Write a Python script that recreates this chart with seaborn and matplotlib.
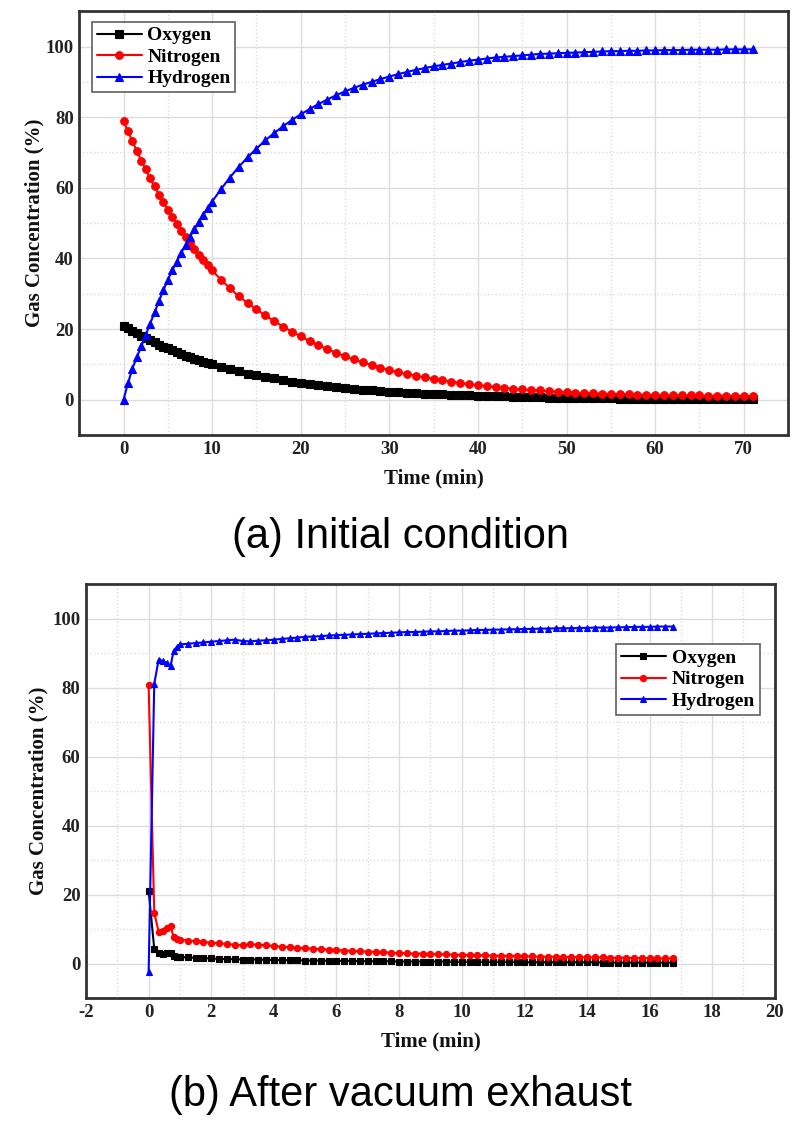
import numpy as np
import pandas as pd
import seaborn as sns
import matplotlib.pyplot as plt
from matplotlib.ticker import MultipleLocator

# (a) initial condition, time in min
time_a = np.concatenate([np.arange(0, 10.5, 0.5), np.arange(11, 72, 1)])
oxygen_a = [21.0, 20.2, 19.5, 18.8, 18.1, 17.4, 16.8, 16.2, 15.6, 15.0, 14.5, 14.0, 13.5, 13.0, 12.5,
            12.0, 11.6, 11.2, 10.8, 10.4, 10.0,
            9.3, 8.6, 8.0, 7.4, 6.9, 6.4, 6.0, 5.5, 5.1, 4.8,
            4.4, 4.1, 3.8, 3.5, 3.3, 3.1, 2.8, 2.6, 2.5, 2.3,
            2.1, 2.0, 1.8, 1.7, 1.6, 1.5, 1.4, 1.3, 1.2, 1.1,
            1.0, 0.9, 0.9, 0.8, 0.8, 0.7, 0.7, 0.6, 0.6, 0.5,
            0.5, 0.5, 0.4, 0.4, 0.4, 0.3, 0.3, 0.3, 0.3, 0.3,
            0.2, 0.2, 0.2, 0.2, 0.2, 0.2, 0.2, 0.2, 0.2, 0.2, 0.2]
nitrogen_a = [79.0, 76.0, 73.2, 70.4, 67.7, 65.2, 62.7, 60.4, 58.1, 55.9, 53.8, 51.8, 49.8, 47.9, 46.1,
              44.4, 42.7, 41.1, 39.5, 38.0, 36.6,
              34.0, 31.6, 29.3, 27.4, 25.6, 23.9, 22.3, 20.7, 19.3, 17.9,
              16.6, 15.4, 14.3, 13.3, 12.3, 11.4, 10.6, 9.8, 9.1, 8.4,
              7.8, 7.3, 6.8, 6.3, 5.9, 5.5, 5.1, 4.7, 4.4, 4.1,
              3.8, 3.6, 3.3, 3.1, 2.9, 2.7, 2.6, 2.4, 2.3, 2.1,
              2.0, 1.9, 1.8, 1.7, 1.6, 1.6, 1.5, 1.4, 1.4, 1.3,
              1.3, 1.3, 1.2, 1.2, 1.2, 1.1, 1.1, 1.1, 1.1, 1.0, 1.0]
hydrogen_a = [0.0, 4.6, 8.8, 12.0, 15.1, 18.3, 21.5, 24.7, 27.9, 31.0, 33.9, 36.6, 39.1, 41.5, 43.8,
              46.1, 48.3, 50.4, 52.4, 54.3, 56.1,
              59.6, 62.9, 65.9, 68.6, 71.1, 73.4, 75.5, 77.4, 79.2, 80.8,
              82.3, 83.7, 85.0, 86.2, 87.3, 88.3, 89.2, 90.0, 90.8, 91.5,
              92.2, 92.8, 93.4, 93.9, 94.4, 94.8, 95.2, 95.6, 96.0, 96.3,
              96.6, 96.9, 97.1, 97.3, 97.5, 97.7, 97.9, 98.0, 98.1, 98.2,
              98.3, 98.4, 98.5, 98.6, 98.7, 98.7, 98.8, 98.8, 98.9, 98.9,
              99.0, 99.0, 99.0, 99.1, 99.1, 99.1, 99.1, 99.2, 99.2, 99.2, 99.2]

# (b) after vacuum exhaust
time_b = np.concatenate([[0, 0.18, 0.32, 0.45, 0.58, 0.7, 0.8, 0.9], np.arange(1.0, 16.76, 0.25)])
oxygen_b = [21.2, 4.3, 3.0, 2.9, 3.1, 3.2, 2.2, 2.0,
            1.9, 1.8, 1.7, 1.6, 1.5, 1.4, 1.3, 1.3, 1.2,
            1.2, 1.2, 1.1, 1.1, 1.0, 1.0, 1.0, 0.9,
            0.9, 0.9, 0.8, 0.8, 0.8, 0.8, 0.7, 0.7,
            0.7, 0.7, 0.7, 0.6,
            0.6, 0.6, 0.6, 0.6, 0.6, 0.6, 0.5, 0.5, 0.5, 0.5, 0.5, 0.5, 0.5, 0.5, 0.5,
            0.4, 0.4, 0.4, 0.4, 0.4, 0.4, 0.4, 0.4, 0.4, 0.4,
            0.3, 0.3, 0.3, 0.3, 0.3, 0.3, 0.3, 0.3, 0.3, 0.3]
nitrogen_b = [80.7, 14.8, 9.2, 9.5, 10.2, 11.0, 7.6, 7.2,
              7.0, 6.7, 6.5, 6.3, 6.1, 5.9, 5.7, 5.5, 5.3,
              5.6, 5.5, 5.3, 5.1, 4.9, 4.8, 4.6, 4.5,
              4.3, 4.2, 4.1, 4.0, 3.8, 3.7, 3.6, 3.5,
              3.4, 3.3, 3.2, 3.1, 3.0, 2.9, 2.9, 2.8,
              2.7, 2.7, 2.6, 2.5, 2.5, 2.4, 2.4, 2.3,
              2.3, 2.2, 2.2, 2.1, 2.1, 2.0, 2.0, 2.0,
              1.9, 1.9, 1.9, 1.8, 1.8, 1.8, 1.7, 1.7,
              1.7, 1.6, 1.6, 1.6, 1.5, 1.5, 1.5]
hydrogen_b = [-2.5, 81.2, 88.2, 87.8, 87.2, 86.3, 90.8, 91.8,
              92.6, 92.8, 93.0, 93.2, 93.4, 93.6, 93.8, 94.0, 93.6,
              93.5, 93.7, 93.8, 94.0, 94.2, 94.4, 94.6, 94.8,
              94.9, 95.0, 95.2, 95.3, 95.4, 95.5, 95.6, 95.7,
              95.8, 95.9, 96.0, 96.1, 96.2, 96.2, 96.3, 96.4,
              96.4, 96.5, 96.6, 96.6, 96.7, 96.8, 96.8, 96.9,
              96.9, 97.0, 97.0, 97.1, 97.1, 97.2, 97.2, 97.3,
              97.3, 97.3, 97.4, 97.4, 97.5, 97.5, 97.5, 97.6,
              97.6, 97.7, 97.7, 97.7, 97.8, 97.8, 97.8]

gases = ['Oxygen', 'Nitrogen', 'Hydrogen']
colors = ['black', 'red', 'blue']
markers = ['s', 'o', '^']

sns.set_style('white')
plt.rcParams['font.family'] = ['Liberation Serif', 'DejaVu Serif']
plt.rcParams['font.weight'] = 'bold'
plt.rcParams['axes.unicode_minus'] = False
plt.rcParams['text.color'] = 'black'
plt.rcParams['axes.labelcolor'] = '#111111'

fig = plt.figure(figsize=(8, 11.24), dpi=100)
ax1 = fig.add_axes([0.099, 0.613, 0.886, 0.377])
ax2 = fig.add_axes([0.1075, 0.112, 0.861, 0.368])


def draw_panel(ax, t, series, msize, lw, xlim, xmaj, xmin, leg_loc, leg_anchor, ylabelpad):
    for name, vals, c, m in zip(gases, series, colors, markers):
        df = pd.DataFrame({'time': t, 'conc': vals})
        sns.lineplot(data=df, x='time', y='conc', ax=ax, color=c, marker=m, markersize=msize,
                     markeredgecolor=c, markeredgewidth=0.8, linewidth=lw, label=name, sort=False)
    ax.set_xlim(*xlim)
    ax.set_ylim(-10, 110)
    ax.xaxis.set_major_locator(MultipleLocator(xmaj))
    ax.xaxis.set_minor_locator(MultipleLocator(xmin))
    ax.yaxis.set_major_locator(MultipleLocator(20))
    ax.yaxis.set_minor_locator(MultipleLocator(10))
    ax.grid(which='major', color='#dcdcdc', linewidth=1.0, linestyle='-')
    ax.grid(which='minor', color='#dcdcdc', linewidth=1.0, linestyle=':')
    ax.set_axisbelow(True)
    for s in ax.spines.values():
        s.set_color('#333333')
        s.set_linewidth(2.0)
    ax.tick_params(which='both', direction='in', length=0, labelsize=13.5, pad=4, labelcolor='#222222')
    ax.set_xlabel('Time (min)', fontsize=15, fontweight='bold', labelpad=8)
    ax.set_ylabel('Gas Concentration (%)', fontsize=15, fontweight='bold', labelpad=ylabelpad)
    leg = ax.legend(loc=leg_loc, bbox_to_anchor=leg_anchor, frameon=True, fancybox=False,
                    edgecolor='#606060', framealpha=1, handlelength=2.3, handletextpad=0.3,
                    borderpad=0.25, labelspacing=0.2, borderaxespad=0,
                    prop={'family': 'Liberation Serif', 'weight': 'bold', 'size': 14})
    leg.get_frame().set_linewidth(1.2)


draw_panel(ax1, time_a, [oxygen_a, nitrogen_a, hydrogen_a], 5.5, 1.5, (-5, 75), 10, 5,
           'upper left', (0.018, 0.975), 1)
draw_panel(ax2, time_b, [oxygen_b, nitrogen_b, hydrogen_b], 4.5, 1.5, (-2, 20), 2, 1,
           'upper right', (0.978, 0.855), 3)

fig.text(0.5, 0.522, '(a) Initial condition', ha='center', va='center', fontsize=30,
         family='Liberation Sans', fontweight='normal', color='black')
fig.text(0.5, 0.026, '(b) After vacuum exhaust', ha='center', va='center', fontsize=30,
         family='Liberation Sans', fontweight='normal', color='black')

fig.savefig('out.png', dpi=100)
